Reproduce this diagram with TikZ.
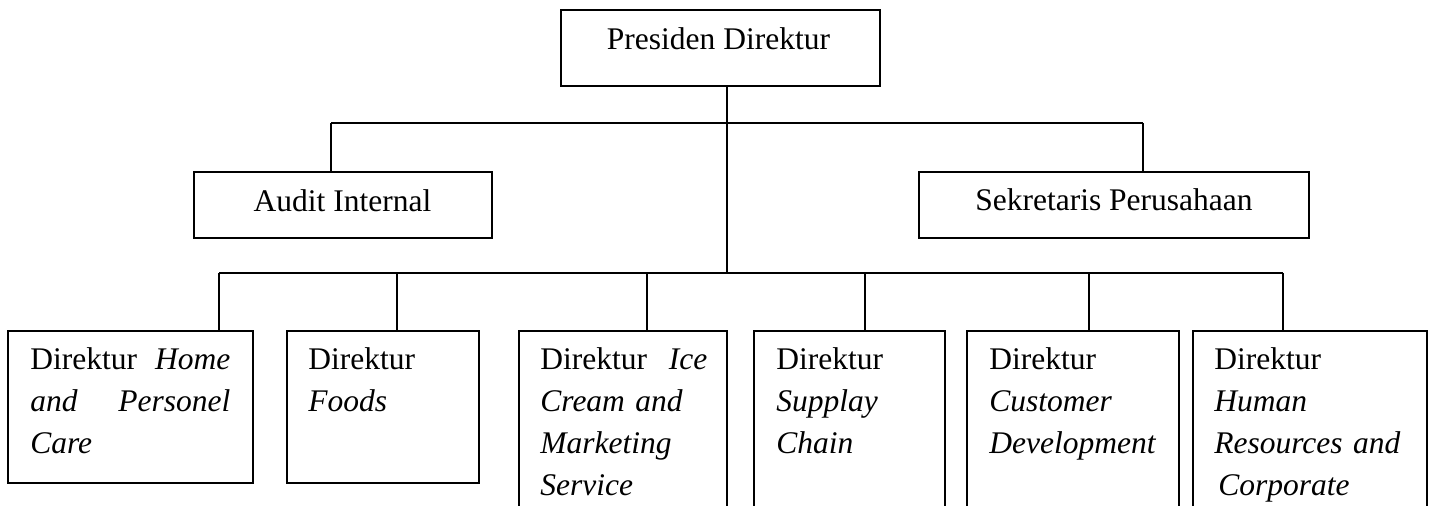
\documentclass[tikz,border=0pt]{standalone}
\usepackage{fontspec}
\setmainfont{Liberation Serif}
\usetikzlibrary{fit}
\begin{document}
\begin{tikzpicture}[x=0.5pt,y=-0.5pt,
  box/.style={draw,line width=1pt,inner sep=0pt},
  conn/.style={line width=1pt},
  lbl/.style={inner sep=0pt,font=\fontsize{15.75pt}{21pt}\selectfont},
  para/.style={lbl,anchor=base west,align=left,text width=#1}]
\useasboundingbox (0,0) rectangle (1432,506);
\clip (0,0) rectangle (1432,506);
% boxes
\node[box,fit={(561,10) (880,86)}] (pres) {};
\node[box,fit={(194,172) (492,238)}] (audit) {};
\node[box,fit={(919,172) (1309,238)}] (sek) {};
\node[box,fit={(8,331) (253,483)}] (b1) {};
\node[box,fit={(287,331) (479,483)}] (b2) {};
\node[box,fit={(519,331) (727,560)}] (b3) {};
\node[box,fit={(754,331) (945,560)}] (b4) {};
\node[box,fit={(967,331) (1179,560)}] (b5) {};
\node[box,fit={(1193,331) (1427,560)}] (b6) {};
% texts
\node[lbl,anchor=base] (prest) at (718.5,50) {Presiden Direktur};
\node[lbl,anchor=base] (auditt) at (342.5,212) {Audit Internal};
\node[lbl,anchor=base] (sekt) at (1114,211) {Sekretaris Perusahaan};
\node[para=100pt] (t1) at (30,370) {Direktur\hfill\textit{Home}\\ \textit{and}\hfill\textit{Personel}\\ \textit{Care}};
\node[para=85pt] (t2) at (308,370) {Direktur\\ \textit{Foods}};
\node[para=83.5pt] (t3) at (540,370) {Direktur\hfill\textit{Ice}\\ \textit{Cream and}\\ \textit{Marketing}\\ \textit{Service}};
\node[para=85pt] (t4) at (776,370) {Direktur\\ \textit{Supplay}\\ \textit{Chain}};
\node[para=95pt] (t5) at (989,370) {Direktur\\ \textit{Customer}\\ \textit{Development}};
\node[para=105pt] (t6) at (1214,370) {Direktur\\ \textit{Human}\\ \textit{Resources and}\\ \hspace*{2pt}\textit{Corporate}};
% connectors
\coordinate (j1) at (727,123);
\coordinate (j2) at (727,273);
\coordinate (da) at (331,123);
\coordinate (ds) at (1143,123);
\coordinate (d1) at (219,273);
\coordinate (d2) at (397,273);
\coordinate (d3) at (647,273);
\coordinate (d4) at (865,273);
\coordinate (d5) at (1089,273);
\coordinate (d6) at (1283,273);
\draw[conn] (pres.south -| j1) -- (j2);
\draw[conn] (da) -- (ds);
\draw[conn] (da) -- (da |- audit.north);
\draw[conn] (ds) -- (ds |- sek.north);
\draw[conn] (d1) -- (d6);
\draw[conn] (d1) -- (d1 |- b1.north);
\draw[conn] (d2) -- (d2 |- b2.north);
\draw[conn] (d3) -- (d3 |- b3.north);
\draw[conn] (d4) -- (d4 |- b4.north);
\draw[conn] (d5) -- (d5 |- b5.north);
\draw[conn] (d6) -- (d6 |- b6.north);
\end{tikzpicture}
\end{document}
